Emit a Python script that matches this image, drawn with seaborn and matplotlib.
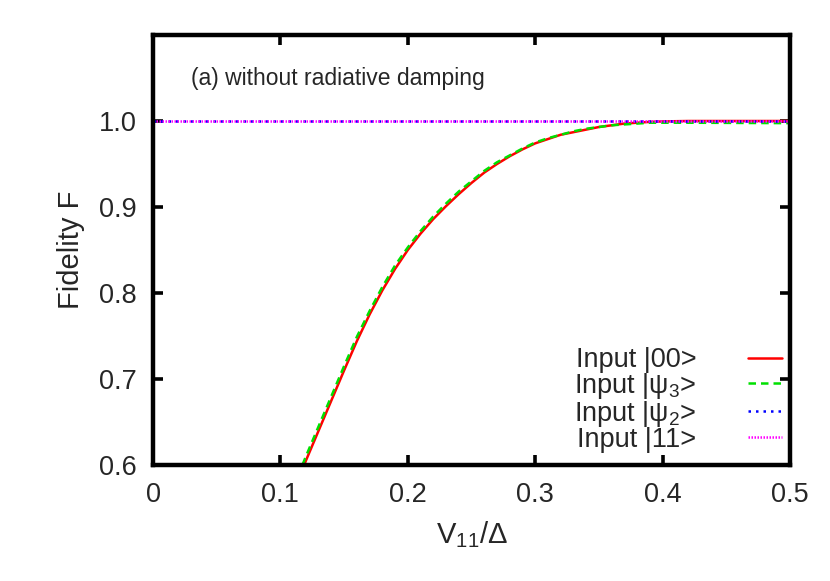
import numpy as np
import pandas as pd
import seaborn as sns
from matplotlib import pyplot as plt

# values
v = [0.110, 0.120, 0.130, 0.140, 0.150, 0.160, 0.170, 0.180, 0.190, 0.200,
     0.210, 0.220, 0.230, 0.240, 0.250, 0.260, 0.270, 0.280, 0.290, 0.300,
     0.310, 0.320, 0.330, 0.340, 0.350, 0.360, 0.370, 0.380, 0.390, 0.400,
     0.420, 0.500]
f_00 = [0.568, 0.605, 0.640, 0.675, 0.710, 0.744, 0.775, 0.803, 0.828, 0.850,
        0.869, 0.886, 0.901, 0.915, 0.928, 0.940, 0.950, 0.959, 0.967, 0.974,
        0.979, 0.984, 0.987, 0.990, 0.993, 0.995, 0.997, 0.998, 0.999, 0.9995,
        1.000, 1.000]
f_psi3 = [0.573, 0.610, 0.645, 0.680, 0.715, 0.749, 0.779, 0.807, 0.832, 0.853,
          0.872, 0.889, 0.904, 0.918, 0.930, 0.942, 0.952, 0.960, 0.968, 0.975,
          0.980, 0.984, 0.988, 0.991, 0.993, 0.995, 0.996, 0.997, 0.998, 0.998,
          0.998, 0.9975]
v_flat = [0.0, 0.5]
f_psi2 = [1.0, 1.0]
f_11 = [1.0, 1.0]

sns.set_style("ticks")
plt.rcParams['font.family'] = ['Liberation Sans', 'DejaVu Sans']
plt.rcParams['mathtext.fontset'] = 'custom'
plt.rcParams['mathtext.rm'] = 'Liberation Sans'
plt.rcParams['mathtext.it'] = 'Liberation Sans:italic'

fig = plt.figure(figsize=(8.3, 5.81), dpi=100)
ax = fig.add_axes([153 / 830, 1 - 465 / 581, (790 - 153) / 830, (465 - 35) / 581])

df00 = pd.DataFrame({"v": v, "f": f_00})
dfp3 = pd.DataFrame({"v": v, "f": f_psi3})
dfp2 = pd.DataFrame({"v": v_flat, "f": f_psi2})
df11 = pd.DataFrame({"v": v_flat, "f": f_11})

sns.lineplot(data=df00, x="v", y="f", ax=ax, color="#ff0000", lw=1.8,
             label="Input |00>")
sns.lineplot(data=dfp3, x="v", y="f", ax=ax, color="#00e000", lw=1.8,
             linestyle=(0, (3, 2)), label="Input |ψ$_3$>")
sns.lineplot(data=dfp2, x="v", y="f", ax=ax, color="#0000ff", lw=1.8,
             linestyle=(0, (1, 2)), label="Input |ψ$_2$>")
sns.lineplot(data=df11, x="v", y="f", ax=ax, color="#ff00ff", lw=1.8,
             linestyle=(0, (0.6, 0.6)), label="Input |11>")

ax.set_xlim(0, 0.5)
ax.set_ylim(0.6, 1.1)
ax.set_xticks([0, 0.1, 0.2, 0.3, 0.4, 0.5])
ax.set_xticklabels(["0", "0.1", "0.2", "0.3", "0.4", "0.5"])
ax.set_yticks([0.6, 0.7, 0.8, 0.9, 1.0])
ax.set_yticklabels(["0.6", "0.7", "0.8", "0.9", "1.0"])
ax.tick_params(direction="in", length=7, width=2.6, labelsize=19.5, pad=12,
               top=True, right=True, color="black")
for s in ax.spines.values():
    s.set_linewidth(3.2)
    s.set_color("black")

ax.set_xlabel("V$_{11}$/Δ", fontsize=21, labelpad=8)
ax.set_ylabel("Fidelity F", fontsize=21, labelpad=10)
ax.text(0.059, 0.90, "(a) without radiative damping", transform=ax.transAxes,
        fontsize=16.5, va="center", ha="left")

leg = ax.legend(loc="lower right", bbox_to_anchor=(1.0, 0.01), frameon=False,
                markerfirst=False, fontsize=19.5, handlelength=1.25,
                labelspacing=-0.08, borderaxespad=0.1, borderpad=0.2,
                handletextpad=1.9)
for t in leg.get_texts():
    t.set_ha("right")

plt.savefig("out.png", dpi=100)
plt.close()
